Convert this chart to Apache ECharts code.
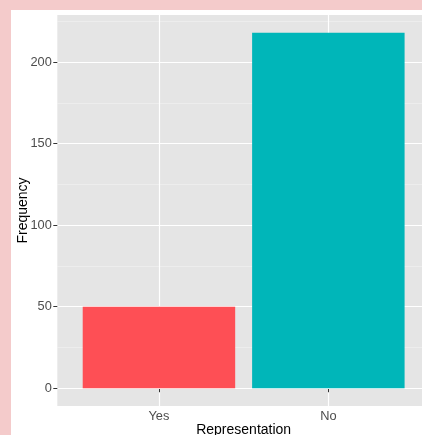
<!DOCTYPE html>
<html>
<head>
<meta charset="utf-8">
<script src="https://cdn.jsdelivr.net/npm/echarts@6/dist/echarts.min.js"></script>
<style>
  html, body { margin: 0; padding: 0; width: 422px; height: 435px; overflow: hidden; background: #f4cbcb; }
  #chart { position: absolute; left: 11px; top: 10px; width: 420px; height: 425px; background: #ffffff; }
</style>
</head>
<body>
<div id="chart"></div>
<script>
// ---- data ----
const categories = ['Yes', 'No'];
const frequencies = [50, 218];
const yMajorTicks = [0, 50, 100, 150, 200];
const yMinorTicks = [25, 75, 125, 175, 225];

const barColors = ['#fe4f55', '#00b6b9'];

// ggplot-like expansion
const yMaxData = Math.max.apply(null, frequencies);
const yPad = 0.05 * yMaxData;
const xPositions = categories.map((c, i) => i + 1);

const chart = echarts.init(document.getElementById('chart'));
const font = 'Liberation Sans, Arial, Helvetica, sans-serif';

chart.setOption({
  animation: false,
  grid: {
    left: 46.3, right: 1, top: 5, bottom: 29,
    containLabel: false, outerBoundsMode: 'none',
    show: true, backgroundColor: '#e5e5e5', borderWidth: 0
  },
  xAxis: {
    type: 'value',
    min: 0.4, max: categories.length + 0.6,
    name: 'Representation', nameLocation: 'middle', nameGap: 17, nameMoveOverlap: false,
    nameTextStyle: { color: '#000', fontSize: 14, fontFamily: font },
    axisLine: { show: false },
    axisTick: { show: true, length: 4, customValues: xPositions, lineStyle: { color: '#333333' } },
    axisLabel: {
      customValues: xPositions, margin: 4, color: '#4d4d4d', fontSize: 12.8, fontFamily: font,
      formatter: v => categories[Math.round(v) - 1] || ''
    },
    splitLine: { show: true, lineStyle: { color: '#ffffff', width: 1.2 } }
  },
  yAxis: [{
    type: 'value',
    min: -yPad, max: yMaxData + yPad,
    name: 'Frequency', nameLocation: 'middle', nameGap: 27, nameMoveOverlap: false,
    nameTextStyle: { color: '#000', fontSize: 14, fontFamily: font },
    axisLine: { show: false },
    axisTick: { show: true, length: 4, customValues: yMajorTicks, lineStyle: { color: '#333333' } },
    axisLabel: { customValues: yMajorTicks, margin: 5.5, color: '#4d4d4d', fontSize: 12.8, fontFamily: font },
    splitLine: { show: true, lineStyle: { color: '#ffffff', width: 1.2 } },
    z: 1
  }, {
    type: 'value',
    min: -yPad, max: yMaxData + yPad,
    position: 'left', offset: 0,
    axisLine: { show: false },
    axisTick: { show: false, customValues: yMinorTicks },
    axisLabel: { show: false, customValues: yMinorTicks },
    splitLine: { show: true, lineStyle: { color: '#f2f2f2', width: 0.6 } },
    z: 0
  }],
  series: [{
    type: 'bar',
    barWidth: '90%',
    data: xPositions.map((x, i) => ({
      value: [x, frequencies[i]],
      itemStyle: { color: barColors[i] }
    }))
  }]
});
</script>
</body>
</html>
